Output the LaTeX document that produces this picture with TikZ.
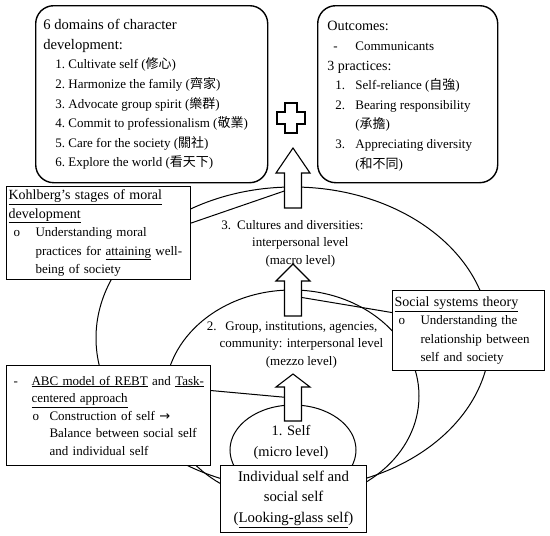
\documentclass[tikz,border=0pt]{standalone}
\usepackage{fontspec}
\setmainfont{Liberation Serif}
\newfontfamily\cjk{Noto Sans CJK TC}
\newfontfamily\symb{DejaVu Sans}
\usetikzlibrary{shapes.geometric, positioning, calc}

\begin{document}
\begin{tikzpicture}[x=1pt, y=-1pt, thick,
    level/.style={draw, ellipse, line width=1pt},
    theory/.style={draw, rectangle, fill=white, line width=1.1pt, anchor=north west, align=left, inner xsep=2pt, inner ysep=0pt},
    goal/.style={draw, rectangle, rounded corners=18pt, fill=white, line width=1.4pt, anchor=north west},
    goaltext/.style={anchor=north west, align=left, inner sep=0pt, font=\fontsize{13}{19.6}\selectfont},
    leveltext/.style={align=center, font=\fontsize{13}{17.5}\selectfont},
    blockarrow/.style={draw, fill=white, line width=1.1pt, line join=miter}]
    \useasboundingbox (0,0) rectangle (550,536);

    % Levels
    \node[level, minimum width=394pt, minimum height=302pt] (Macro) at (293,338) {};
    \node[level, minimum width=254pt, minimum height=212pt] (Mezzo) at (292,396) {};
    \node[level, minimum width=126pt, minimum height=90pt] (Micro) at (293,450) {};

    \node[leveltext] (MacroText) at (292.5,243) {\begin{tabular}{@{}l@{\hspace{6pt}}c@{}}3. & Cultures and diversities:\\ & interpersonal level\\ & (macro level)\end{tabular}};
    \node[leveltext] (MezzoText) at (295,344) {\begin{tabular}{@{}l@{\hspace{3pt}}c@{}}2. & Group, institutions, agencies,\\ & community: interpersonal level\\ & (mezzo level)\end{tabular}};
    \node[leveltext, font=\fontsize{14.4}{21}\selectfont] (MicroText) at (291,442) {1. Self\\(micro level)};

    % Goals
    \node[goal, minimum width=232pt, minimum height=177pt] (Domains) at (35,5) {};
    \node[goaltext] (DomainsText) at (43,19) {{\fontsize{14.6}{19.6}\selectfont 6 domains of character}\\{\fontsize{14.6}{19.6}\selectfont development:}\\
      \hspace*{12pt}\makebox[13pt][l]{1.}Cultivate self ({\cjk 修心})\\
      \hspace*{12pt}\makebox[13pt][l]{2.}Harmonize the family ({\cjk 齊家})\\
      \hspace*{12pt}\makebox[13pt][l]{3.}Advocate group spirit ({\cjk 樂群})\\
      \hspace*{12pt}\makebox[13pt][l]{4.}Commit to professionalism ({\cjk 敬業})\\
      \hspace*{12pt}\makebox[13pt][l]{5.}Care for the society ({\cjk 關社})\\
      \hspace*{12pt}\makebox[13pt][l]{6.}Explore the world ({\cjk 看天下})};
    \node[goal, minimum width=180pt, minimum height=177pt] (Outcomes) at (317,5) {};
    \node[goaltext] (OutcomesText) at (327,21) {{\fontsize{14.2}{19.6}\selectfont Outcomes:}\\
      \hspace*{6pt}\makebox[22pt][l]{-}Communicants\\
      {\fontsize{14}{19.6}\selectfont 3 practices:}\\
      \hspace*{8pt}\makebox[20pt][l]{1.}Self-reliance ({\cjk 自強})\\
      \hspace*{8pt}\makebox[20pt][l]{2.}Bearing responsibility\\
      \hspace*{28pt}({\cjk 承擔})\\
      \hspace*{8pt}\makebox[20pt][l]{3.}Appreciating diversity\\
      \hspace*{28pt}({\cjk 和不同})};

    % Theories
    \node[theory, minimum height=93pt, text width=180pt, font=\fontsize{13}{18.5}\selectfont] (Kohlberg) at (6,186) {{\fontsize{14}{18.5}\selectfont\underline{Kohlberg’s stages of moral}}\\
      {\fontsize{14}{18.5}\selectfont\underline{development}}\\
      \hspace*{5pt}\makebox[22pt][l]{o}Understanding moral\\
      \hspace*{27pt}practices for \underline{attaining} well-\\
      \hspace*{27pt}being of society};
    \node[theory, minimum height=80pt, text width=148pt, font=\fontsize{13}{18.3}\selectfont] (Social) at (392,290) {{\fontsize{14}{18.3}\selectfont\underline{Social systems theory}}\\
      \hspace*{4pt}\makebox[22pt][l]{o}Understanding the\\
      \hspace*{26pt}relationship between\\
      \hspace*{26pt}self and society};
    \node[theory, minimum height=100pt, text width=200pt, font=\fontsize{13}{17.5}\selectfont] (ABC) at (6,365) {\hspace*{5pt}\makebox[18pt][l]{-}\underline{ABC model of REBT} and \underline{Task-}\\
      \hspace*{23pt}\underline{centered approach}\\
      \hspace*{24pt}\makebox[17pt][l]{o}Construction of self {\symb →}\\
      \hspace*{41pt}Balance between social self\\
      \hspace*{41pt}and individual self};
    \node[theory, align=center, minimum width=146pt, minimum height=67pt, font=\fontsize{14.8}{20.5}\selectfont] (Individual) at (220,465) {Individual self and\\social self\\(\underline{Looking-glass self})};

    % Pointers to the levels
    \coordinate (MacroTop) at (293,188);
    \coordinate (MezzoTop) at (293,296);
    \coordinate (MicroTop) at (293,398);
    \draw[line width=1pt] ([yshift=10pt]Kohlberg.east) -- (MacroTop);
    \draw[line width=1pt] ([yshift=18pt]Social.west) -- (MezzoTop);
    \draw[line width=1pt] ([yshift=25pt]ABC.east) -- (MicroTop);

    % Block arrows and plus
    \draw[blockarrow] (284.5,208) -- (284.5,173) -- (276,173) -- (293,148) -- (310,173) -- (301.5,173) -- (301.5,208) -- cycle;
    \draw[blockarrow] (284.5,316) -- (284.5,281) -- (276,281) -- (293,264) -- (310,281) -- (301.5,281) -- (301.5,316) -- cycle;
    \draw[blockarrow] (284.5,421) -- (284.5,387) -- (276,387) -- (293,374) -- (310,387) -- (301.5,387) -- (301.5,421) -- cycle;
    \draw[blockarrow] (285,103) -- (297,103) -- (297,112) -- (305,112) -- (305,124) -- (297,124) -- (297,133) -- (285,133) -- (285,124) -- (277,124) -- (277,112) -- (285,112) -- cycle;
\end{tikzpicture}
\end{document}
